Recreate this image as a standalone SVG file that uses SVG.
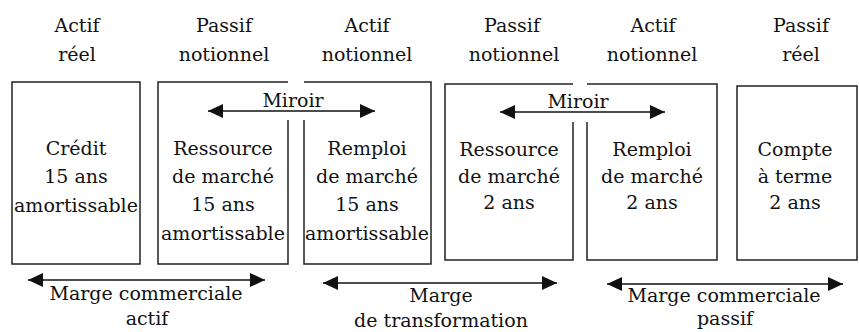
<svg xmlns="http://www.w3.org/2000/svg" width="859" height="332" viewBox="0 0 859 332">
<style>
text{font-family:"DejaVu Serif","Liberation Serif",serif;font-size:19px;fill:#111;text-anchor:middle}
.box{fill:none;stroke:#222;stroke-width:1.5}
.arr{fill:none;stroke:#111;stroke-width:1.5;marker-start:url(#ah);marker-end:url(#ah)}
</style>
<defs>
<marker id="ah" markerUnits="userSpaceOnUse" markerWidth="16" markerHeight="14" refX="15" refY="7" orient="auto-start-reverse" viewBox="0 0 16 14">
<path d="M0,0 L15,7 L0,14 z" fill="#111"/>
</marker>
</defs>
<g id="headers">
<text x="77" y="32">Actif</text><text x="77" y="61">réel</text>
<text x="224" y="32">Passif</text><text x="224" y="61">notionnel</text>
<text x="367" y="32">Actif</text><text x="367" y="61">notionnel</text>
<text x="512" y="32">Passif</text><text x="514" y="61">notionnel</text>
<text x="653" y="32">Actif</text><text x="652" y="61">notionnel</text>
<text x="801" y="32">Passif</text><text x="801" y="61">réel</text>
</g>
<g id="credit">
<rect class="box" x="12" y="82" width="128" height="182"/>
<text x="76" y="155">Crédit</text><text x="76" y="183">15 ans</text><text x="76" y="212">amortissable</text>
</g>
<g id="ressource15">
<path class="box" d="M288,82 H158 V264 H288 V120"/>
<text x="223" y="155">Ressource</text><text x="223" y="183">de marché</text><text x="223" y="211">15 ans</text><text x="223" y="240">amortissable</text>
</g>
<g id="remploi15">
<path class="box" d="M304,120 V264 H431 V82 H304"/>
<text x="367" y="155">Remploi</text><text x="367" y="183">de marché</text><text x="367" y="211">15 ans</text><text x="367" y="240">amortissable</text>
</g>
<g id="ressource2">
<path class="box" d="M573,84 H445 V260 H573 V122"/>
<text x="509" y="156">Ressource</text><text x="509" y="183">de marché</text><text x="509" y="209">2 ans</text>
</g>
<g id="remploi2">
<path class="box" d="M587,122 V260 H717 V84 H587"/>
<text x="652" y="156">Remploi</text><text x="652" y="183">de marché</text><text x="652" y="209">2 ans</text>
</g>
<g id="compte">
<rect class="box" x="737" y="86" width="120" height="174"/>
<text x="795" y="156">Compte</text><text x="795" y="183">à terme</text><text x="795" y="209">2 ans</text>
</g>
<g id="connectors">
<line class="arr" x1="208" y1="111" x2="375" y2="111"/>
<text x="293" y="107">Miroir</text>
<line class="arr" x1="500" y1="112" x2="665" y2="112"/>
<text x="578" y="108">Miroir</text>
<line class="arr" x1="28" y1="280" x2="265" y2="280"/>
<text x="146" y="300">Marge commerciale</text><text x="147" y="325">actif</text>
<line class="arr" x1="323" y1="283" x2="557" y2="283"/>
<text x="441" y="302">Marge</text><text x="441" y="327">de transformation</text>
<line class="arr" x1="607" y1="284" x2="843" y2="284"/>
<text x="724" y="302">Marge commerciale</text><text x="725" y="325">passif</text>
</g>
</svg>
